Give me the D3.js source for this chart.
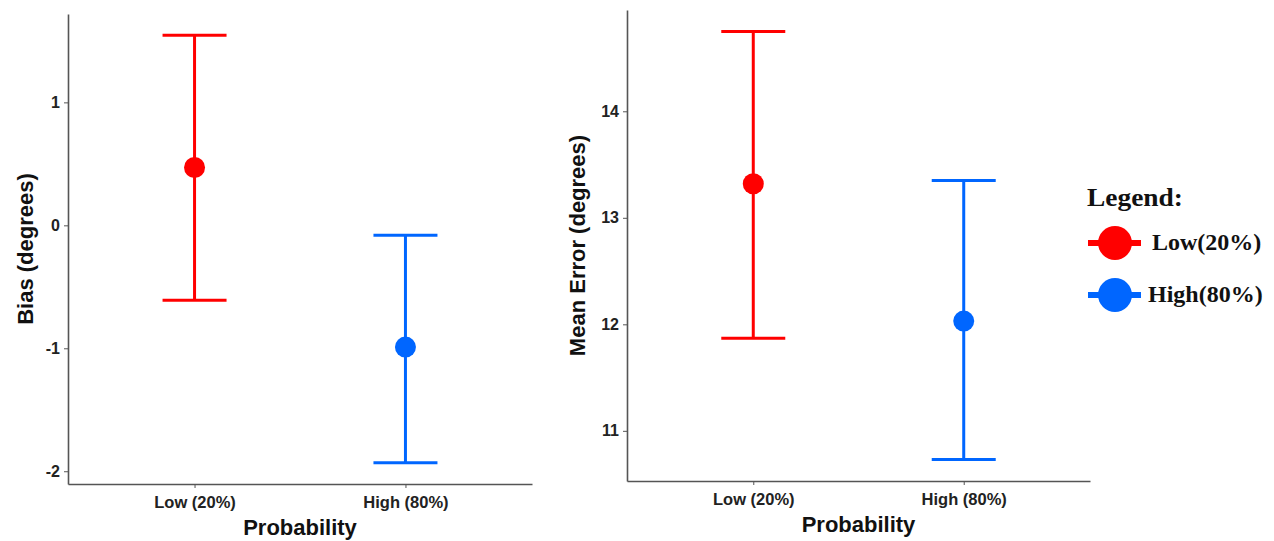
<!DOCTYPE html>
<html>
<head>
<meta charset="utf-8">
<script src="https://cdn.jsdelivr.net/npm/d3@7"></script>
<style>
  body { margin: 0; background: #fff; }
  .axis text { font-family: "Liberation Sans", Arial, sans-serif; font-weight: bold; fill: #222; }
  .axis path, .axis line { stroke: #555; }
  .title { font-family: "Liberation Sans", Arial, sans-serif; font-weight: bold; fill: #111; }
  .legend text { font-family: "Liberation Serif", "Times New Roman", serif; font-weight: bold; fill: #111; }
</style>
</head>
<body>
<svg width="1274" height="541"></svg>
<script>
// data
var groups = ["Low (20%)", "High (80%)"];
var colors = ["#ff0000", "#0066ff"];

var biasMean  = [0.47, -0.99];
var biasLower = [-0.61, -1.93];
var biasUpper = [1.545, -0.08];
var biasTicks = [-2, -1, 0, 1];

var errMean  = [13.32, 12.03];
var errLower = [11.87, 10.73];
var errUpper = [14.75, 13.35];
var errTicks = [11, 12, 13, 14];

var legendLabels = ["Low(20%)", "High(80%)"];

var svg = d3.select("svg");

function panel(opt) {
	var g = svg.append("g");

	// discrete axis with ggplot style expansion
	var x = d3.scaleLinear().domain([0.4, 2.6]).range([opt.left, opt.right]);
	var lo = d3.min(opt.lower), hi = d3.max(opt.upper), pad = (hi - lo) * 0.05;
	var y = d3.scaleLinear().domain([lo - pad, hi + pad]).range([opt.bottom, opt.top]);

	var xa = g.append("g")
		.attr("class", "axis")
		.attr("transform", "translate(0," + opt.bottom + ")")
		.call(d3.axisBottom(x).tickValues([1, 2]).tickSize(4).tickSizeOuter(0)
			.tickFormat(function(d) { return groups[d - 1]; }));
	xa.selectAll("text").style("font-size", "16.5px").attr("dy", "1.05em");

	var ya = g.append("g")
		.attr("class", "axis")
		.attr("transform", "translate(" + opt.left + ",0)")
		.call(d3.axisLeft(y).tickValues(opt.ticks).tickSize(4).tickSizeOuter(0).tickPadding(4)
			.tickFormat(function(d) { return String(d); }));
	ya.selectAll("text").style("font-size", "16px");
	g.selectAll(".axis .domain").attr("stroke-width", 1.6);

	g.append("text")
		.attr("class", "title")
		.attr("x", (opt.left + opt.right) / 2)
		.attr("y", opt.bottom + 51)
		.attr("text-anchor", "middle")
		.style("font-size", "22px")
		.text("Probability");

	g.append("text")
		.attr("class", "title")
		.attr("transform", "translate(" + opt.ytx + "," + ((opt.top + opt.bottom) / 2) + ") rotate(-90)")
		.attr("text-anchor", "middle")
		.style("font-size", "22px")
		.text(opt.ylabel);

	var idx = [0, 1];
	var capW = 32;
	idx.forEach(function(i) {
		var cx = x(i + 1);
		g.append("line")
			.attr("x1", cx).attr("x2", cx)
			.attr("y1", y(opt.lower[i])).attr("y2", y(opt.upper[i]))
			.attr("stroke", colors[i]).attr("stroke-width", 3);
		[opt.lower[i], opt.upper[i]].forEach(function(v) {
			g.append("line")
				.attr("x1", cx - capW).attr("x2", cx + capW)
				.attr("y1", y(v)).attr("y2", y(v))
				.attr("stroke", colors[i]).attr("stroke-width", 3);
		});
		g.append("circle")
			.attr("cx", cx).attr("cy", y(opt.mean[i]))
			.attr("r", 10.5)
			.attr("fill", colors[i]);
	});
}

panel({left: 68, right: 532, top: 14, bottom: 484, mean: biasMean, lower: biasLower, upper: biasUpper,
	ticks: biasTicks, ylabel: "Bias (degrees)", ytx: 33});
panel({left: 627, right: 1090, top: 10, bottom: 481, mean: errMean, lower: errLower, upper: errUpper,
	ticks: errTicks, ylabel: "Mean Error (degrees)", ytx: 585});

// legend
var lg = svg.append("g").attr("class", "legend");
lg.append("text")
	.attr("x", 1087).attr("y", 206)
	.style("font-size", "25px")
	.attr("textLength", 96)
	.attr("lengthAdjust", "spacingAndGlyphs")
	.text("Legend:");

legendLabels.forEach(function(d, i) {
	var cy = 243 + i * 52;
	lg.append("line")
		.attr("x1", 1088).attr("x2", 1141)
		.attr("y1", cy).attr("y2", cy)
		.attr("stroke", colors[i]).attr("stroke-width", 6);
	lg.append("circle")
		.attr("cx", 1115).attr("cy", cy).attr("r", 17)
		.attr("fill", colors[i]);
	lg.append("text")
		.attr("x", i == 0 ? 1152 : 1148).attr("y", cy + 7)
		.style("font-size", "24px")
		.text(d);
});
</script>
</body>
</html>
